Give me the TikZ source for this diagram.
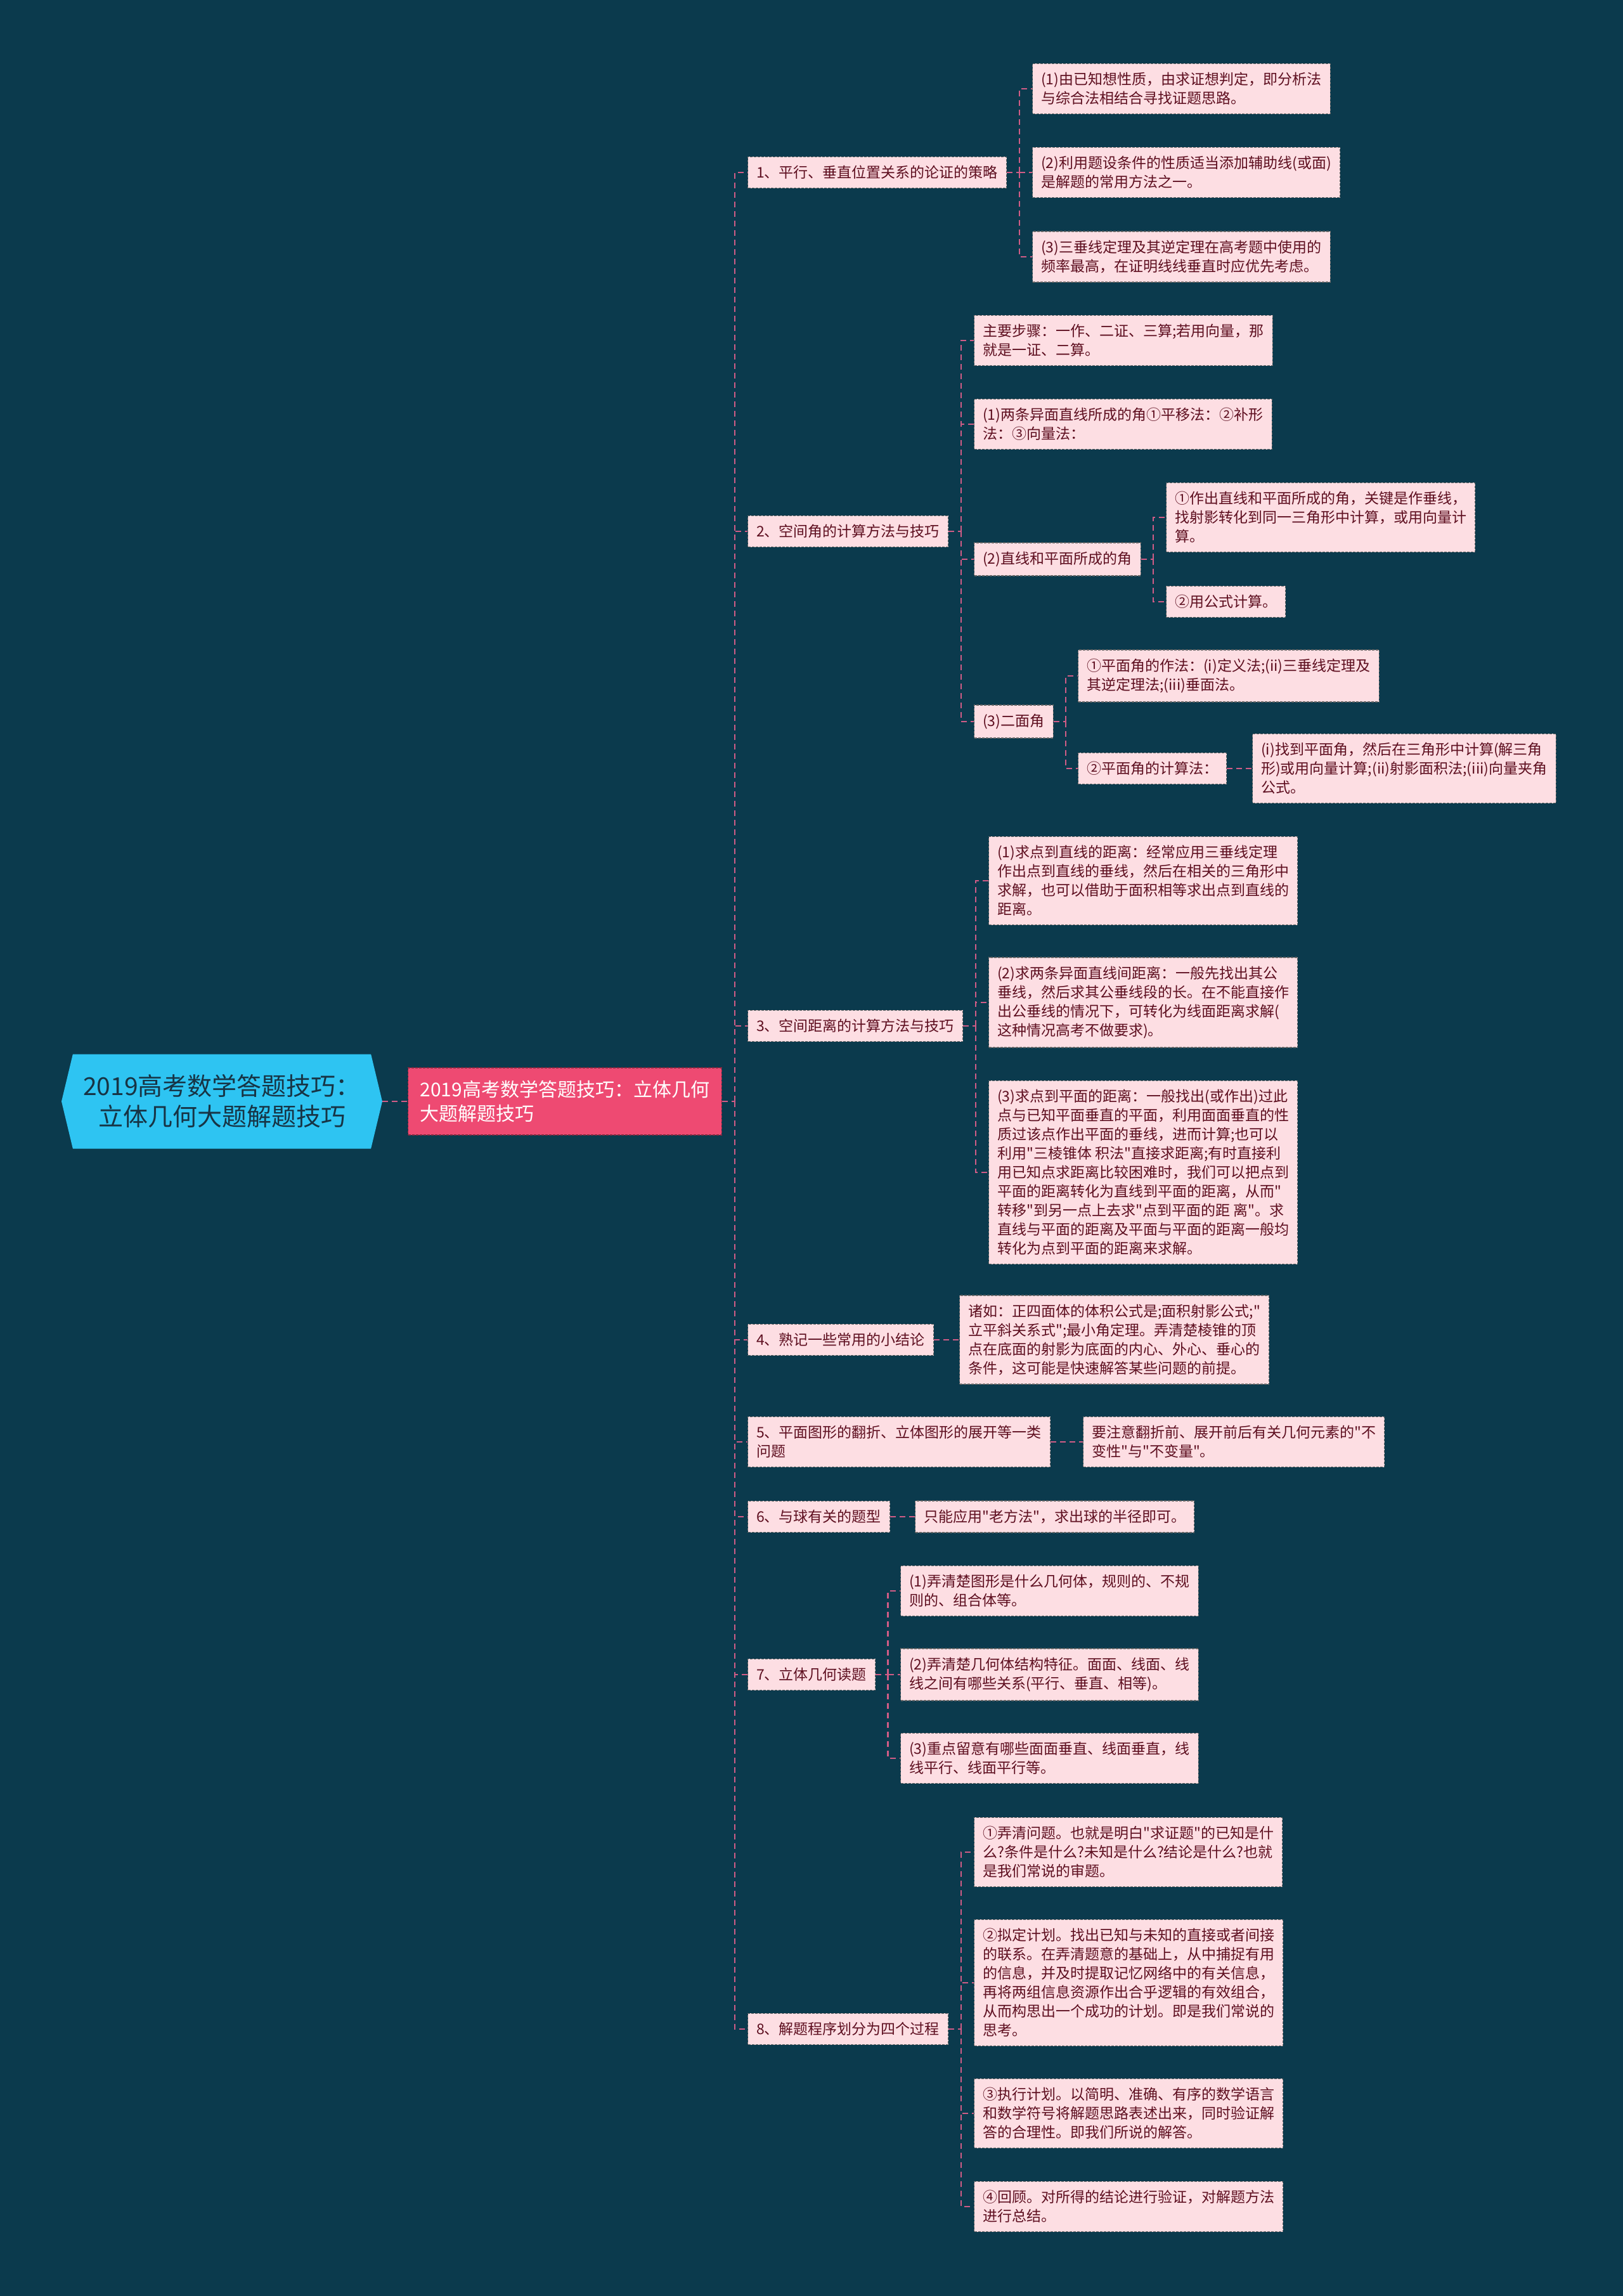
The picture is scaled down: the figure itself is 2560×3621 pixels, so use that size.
\documentclass[tikz,border=0pt]{standalone}
\usepackage{fontspec}
\setmainfont{Noto Sans CJK SC}[Ligatures=TeXOff]
\usetikzlibrary{calc,shapes.symbols}
\definecolor{mapBg}{HTML}{0B3A4D}
\definecolor{mapRoot}{HTML}{2EC4F2}
\definecolor{mapRootText}{HTML}{173445}
\definecolor{mapMain}{HTML}{EE4A72}
\definecolor{mapLeaf}{HTML}{FDDEE3}
\definecolor{mapLeafText}{HTML}{5E0F20}
\definecolor{mapLink}{HTML}{D05C86}
\tikzset{
  % root of the mind map
  rootnode/.style={
    shape=signal,
    signal to=west and east,
    signal pointer angle=153,
    fill=mapRoot,
    text=mapRootText,
    align=center,
    minimum width=253pt,
    minimum height=74.5pt,
    inner sep=0pt,
    font=\fontsize{19.5pt}{24pt}\selectfont
  },
  mainnode/.style={
    fill=mapMain,
    draw=mapMain!55!black,
    dash pattern=on 2pt off 1pt,
    line width=0.6pt,
    text=white,
    align=left,
    anchor=west,
    inner xsep=9.5pt,
    inner ysep=10pt,
    font=\fontsize{15pt}{19pt}\selectfont
  },
  topic/.style={
    fill=mapLeaf,
    draw=black!60,
    dash pattern=on 2pt off 1pt,
    line width=0.6pt,
    text=mapLeafText,
    align=left,
    anchor=west,
    inner xsep=6.8pt,
    inner ysep=7pt,
    font=\fontsize{11.5pt}{15pt}\selectfont
  },
  link/.style={
    draw=mapLink,
    line width=1.1pt,
    dash pattern=on 4.5pt off 3pt
  }
}
\begin{document}
\begin{tikzpicture}[x=0.5pt,y=-0.5pt]

\fill[mapBg] (0,0) rectangle (2560,3621);

\node[rootnode] (root) at (350,1737) {2019高考数学答题技巧：\\立体几何大题解题技巧};
\node[mainnode] (main) at (643,1737) {2019高考数学答题技巧：立体几何\\大题解题技巧};

\node[topic] (s1) at (1179,272) {1、平行、垂直位置关系的论证的策略};
\node[topic] (s2) at (1179,838) {2、空间角的计算方法与技巧};
\node[topic] (s3) at (1179,1618) {3、空间距离的计算方法与技巧};
\node[topic] (s4) at (1179,2113) {4、熟记一些常用的小结论};
\node[topic] (s5) at (1179,2274) {5、平面图形的翻折、立体图形的展开等一类\\问题};
\node[topic] (s6) at (1179,2392) {6、与球有关的题型};
\node[topic] (s7) at (1179,2641) {7、立体几何读题};
\node[topic] (s8) at (1179,3200) {8、解题程序划分为四个过程};

% 1
\node[topic] (s1a) at (1628,140) {(1)由已知想性质，由求证想判定，即分析法\\与综合法相结合寻找证题思路。};
\node[topic] (s1b) at (1628,272) {(2)利用题设条件的性质适当添加辅助线(或面)\\是解题的常用方法之一。};
\node[topic] (s1c) at (1628,405) {(3)三垂线定理及其逆定理在高考题中使用的\\频率最高，在证明线线垂直时应优先考虑。};

% 2
\node[topic] (s2a) at (1536,537) {主要步骤：一作、二证、三算;若用向量，那\\就是一证、二算。};
\node[topic] (s2b) at (1536,669) {(1)两条异面直线所成的角①平移法：②补形\\法：③向量法：};
\node[topic] (s2c) at (1536,882) {(2)直线和平面所成的角};
\node[topic] (s2d) at (1536,1138) {(3)二面角};
\node[topic] (s2c1) at (1839,816) {①作出直线和平面所成的角，关键是作垂线，\\找射影转化到同一三角形中计算，或用向量计\\算。};
\node[topic] (s2c2) at (1839,949) {②用公式计算。};
\node[topic] (s2d1) at (1700,1066) {①平面角的作法：(i)定义法;(ii)三垂线定理及\\其逆定理法;(iii)垂面法。};
\node[topic] (s2d2) at (1700,1212) {②平面角的计算法：};
\node[topic] (s2d2a) at (1975,1212) {(i)找到平面角，然后在三角形中计算(解三角\\形)或用向量计算;(ii)射影面积法;(iii)向量夹角\\公式。};

% 3
\node[topic] (s3a) at (1559,1389) {(1)求点到直线的距离：经常应用三垂线定理\\作出点到直线的垂线，然后在相关的三角形中\\求解，也可以借助于面积相等求出点到直线的\\距离。};
\node[topic] (s3b) at (1559,1581) {(2)求两条异面直线间距离：一般先找出其公\\垂线，然后求其公垂线段的长。在不能直接作\\出公垂线的情况下，可转化为线面距离求解(\\这种情况高考不做要求)。};
\node[topic] (s3c) at (1559,1849) {(3)求点到平面的距离：一般找出(或作出)过此\\点与已知平面垂直的平面，利用面面垂直的性\\质过该点作出平面的垂线，进而计算;也可以\\利用"三棱锥体 积法"直接求距离;有时直接利\\用已知点求距离比较困难时，我们可以把点到\\平面的距离转化为直线到平面的距离，从而"\\转移"到另一点上去求"点到平面的距 离"。求\\直线与平面的距离及平面与平面的距离一般均\\转化为点到平面的距离来求解。};

% 4-6
\node[topic] (s4a) at (1513,2113) {诸如：正四面体的体积公式是;面积射影公式;"\\立平斜关系式";最小角定理。弄清楚棱锥的顶\\点在底面的射影为底面的内心、外心、垂心的\\条件，这可能是快速解答某些问题的前提。};
\node[topic] (s5a) at (1708,2274) {要注意翻折前、展开前后有关几何元素的"不\\变性"与"不变量"。};
\node[topic] (s6a) at (1443,2392) {只能应用"老方法"，求出球的半径即可。};

% 7
\node[topic] (s7a) at (1420,2509) {(1)弄清楚图形是什么几何体，规则的、不规\\则的、组合体等。};
\node[topic] (s7b) at (1420,2641) {(2)弄清楚几何体结构特征。面面、线面、线\\线之间有哪些关系(平行、垂直、相等)。};
\node[topic] (s7c) at (1420,2773) {(3)重点留意有哪些面面垂直、线面垂直，线\\线平行、线面平行等。};

% 8
\node[topic] (s8a) at (1536,2921) {①弄清问题。也就是明白"求证题"的已知是什\\么?条件是什么?未知是什么?结论是什么?也就\\是我们常说的审题。};
\node[topic] (s8b) at (1536,3127) {②拟定计划。找出已知与未知的直接或者间接\\的联系。在弄清题意的基础上，从中捕捉有用\\的信息，并及时提取记忆网络中的有关信息，\\再将两组信息资源作出合乎逻辑的有效组合，\\从而构思出一个成功的计划。即是我们常说的\\思考。};
\node[topic] (s8c) at (1536,3333) {③执行计划。以简明、准确、有序的数学语言\\和数学符号将解题思路表述出来，同时验证解\\答的合理性。即我们所说的解答。};
\node[topic] (s8d) at (1536,3480) {④回顾。对所得的结论进行验证，对解题方法\\进行总结。};

% links
\draw[link] (root.east) -- (main.west);
\coordinate (trunk) at ($(main.east)!.5!(main.east -| s1.west)$);
\draw[link] (main.east) -- (trunk);
\foreach \s in {s1,s2,s3,s4,s5,s6,s7,s8}
  \draw[link] (trunk) |- (\s.west);

\coordinate (b1) at ($(s1.east)!.5!(s1.east -| s1a.west)$);
\draw[link] (s1.east) -- (b1);
\foreach \c in {s1a,s1b,s1c}
  \draw[link] (b1) |- (\c.west);

\coordinate (b2) at ($(s2.east)!.5!(s2.east -| s2a.west)$);
\draw[link] (s2.east) -- (b2);
\foreach \c in {s2a,s2b,s2c,s2d}
  \draw[link] (b2) |- (\c.west);

\coordinate (b2c) at ($(s2c.east)!.5!(s2c.east -| s2c1.west)$);
\draw[link] (s2c.east) -- (b2c);
\foreach \c in {s2c1,s2c2}
  \draw[link] (b2c) |- (\c.west);

\coordinate (b2d) at ($(s2d.east)!.5!(s2d.east -| s2d1.west)$);
\draw[link] (s2d.east) -- (b2d);
\foreach \c in {s2d1,s2d2}
  \draw[link] (b2d) |- (\c.west);
\draw[link] (s2d2.east) -- (s2d2a.west);

\coordinate (b3) at ($(s3.east)!.5!(s3.east -| s3a.west)$);
\draw[link] (s3.east) -- (b3);
\foreach \c in {s3a,s3b,s3c}
  \draw[link] (b3) |- (\c.west);

\draw[link] (s4.east) -- (s4a.west);
\draw[link] (s5.east) -- (s5a.west);
\draw[link] (s6.east) -- (s6a.west);

\coordinate (b7) at ($(s7.east)!.5!(s7.east -| s7a.west)$);
\draw[link] (s7.east) -- (b7);
\foreach \c in {s7a,s7b,s7c}
  \draw[link] (b7) |- (\c.west);

\coordinate (b8) at ($(s8.east)!.5!(s8.east -| s8a.west)$);
\draw[link] (s8.east) -- (b8);
\foreach \c in {s8a,s8b,s8c,s8d}
  \draw[link] (b8) |- (\c.west);

\end{tikzpicture}
\end{document}
